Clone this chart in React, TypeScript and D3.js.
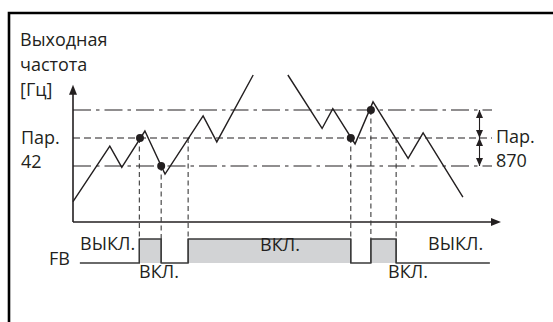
import React from "react";
import { scaleLinear, line } from "d3";

// frequency curve, two pieces (time units, Hz)
const curveA = [
  [0, 7.3], [8.6, 27.1], [11.4, 19.5], [16.8, 32.5], [21.5, 17.1],
  [30.4, 37.9], [33.6, 28.6], [42.1, 52.5],
];
const curveB = [
  [50.2, 52.5], [58.2, 33.4], [60.7, 40.5], [65.9, 27.9], [70.1, 42.9],
  [78.3, 22.7], [81.8, 31.8], [91.1, 8.9],
];
// Par. 42 level and Par. 870 band
const par42 = 30;
const par870 = 10;
// detection points on the curve [time, Hz]
const dots = [[15.65, 30], [20.6, 20], [64.9, 30], [69.6, 40]];
// FB signal edges: [time, level at start of vertical dashed guide]
const fbEdges = [[15.5, 30], [20.6, 20], [26.9, 30], [64.9, 30], [69.6, 40], [75.5, 30]];
const fbStart = 1.6;
const fbEnd = 97.4;

const ink = "#231f20";
const font = "'Open Sans', sans-serif";

export default function App() {
  const x = scaleLinear().domain([0, 100]).range([73, 501]);
  const y = scaleLinear().domain([0, 52.5]).range([222, 75]);
  const fb = scaleLinear().domain([0, 1]).range([263, 239]);
  const path = line<number[]>().x((d) => x(d[0])).y((d) => y(d[1]));

  // FB levels: off/on alternating from edges
  const times = [fbStart, ...fbEdges.map((e) => e[0]), fbEnd];
  const levels = times.slice(0, -1).map((_, i) => (i % 2 === 1 ? 1 : 0));
  const stepPts: [number, number][] = [];
  levels.forEach((lv, i) => {
    stepPts.push([x(times[i]), fb(lv)]);
    stepPts.push([x(times[i + 1]), fb(lv)]);
  });
  const stepPath = "M" + stepPts.map((p) => p.join(",")).join("L");

  const xEnd = 492;
  const dimX = 479.5;
  const arrowUp = (tx: number, ty: number) => `M${tx},${ty}L${tx - 3.5},${ty + 8}L${tx + 3.5},${ty + 8}Z`;
  const arrowDown = (tx: number, ty: number) => `M${tx},${ty}L${tx - 3.5},${ty - 8}L${tx + 3.5},${ty - 8}Z`;

  const txt = { fontFamily: font, fontSize: 18, fill: ink } as const;

  return (
    <svg width={553} height={322} style={{ position: "absolute", left: 0, top: 0 }}>
      <rect width={553} height={322} fill="#fff" />
      <path d="M9,330V13H560" fill="none" stroke="#000" strokeWidth={2.6} />

      {/* labels */}
      <text x={20} y={46} {...txt}>Выходная</text>
      <text x={20} y={71} {...txt}>частота</text>
      <text x={20} y={96} {...txt}>[Гц]</text>
      <text x={21} y={144} {...txt}>Пар.</text>
      <text x={21} y={168} {...txt}>42</text>
      <text x={496} y={143} {...txt}>Пар.</text>
      <text x={496} y={167} {...txt}>870</text>

      {/* level lines */}
      <line x1={x(0)} x2={xEnd} y1={y(par42 + par870)} y2={y(par42 + par870)} stroke={ink} strokeWidth={1.2} strokeDasharray="18 5 3.5 5" />
      <line x1={x(0)} x2={xEnd} y1={y(par42)} y2={y(par42)} stroke={ink} strokeWidth={1.2} strokeDasharray="7 4" />
      <line x1={x(0)} x2={xEnd} y1={y(par42 - par870)} y2={y(par42 - par870)} stroke={ink} strokeWidth={1.2} strokeDasharray="18 5 3.5 5" />

      {/* dimension arrows */}
      <line x1={dimX} x2={dimX} y1={y(par42 + par870)} y2={y(par42 - par870)} stroke={ink} strokeWidth={1.1} />
      <path d={arrowUp(dimX, y(par42 + par870))} fill={ink} />
      <path d={arrowDown(dimX, y(par42))} fill={ink} />
      <path d={arrowUp(dimX, y(par42))} fill={ink} />
      <path d={arrowDown(dimX, y(par42 - par870))} fill={ink} />

      {/* axes */}
      <line x1={x(0)} x2={x(0)} y1={y(0)} y2={y(49) + 8} stroke={ink} strokeWidth={1.6} />
      <path d={`M${x(0)},${y(49)}L${x(0) - 4},${y(49) + 10}L${x(0) + 4},${y(49) + 10}Z`} fill={ink} />
      <line x1={x(0)} x2={x(100) - 8} y1={y(0)} y2={y(0)} stroke={ink} strokeWidth={1.6} />
      <path d={`M${x(100)},${y(0)}L${x(100) - 10},${y(0) - 4}L${x(100) - 10},${y(0) + 4}Z`} fill={ink} />

      {/* vertical guides */}
      {fbEdges.map((e, i) => (
        <line key={i} x1={x(e[0])} x2={x(e[0])} y1={y(e[1])} y2={fb(1)} stroke="#3a3a3a" strokeWidth={1.1} strokeDasharray="5 3.5" />
      ))}

      {/* frequency curve */}
      <path d={path(curveA) ?? ""} fill="none" stroke={ink} strokeWidth={1.4} />
      <path d={path(curveB) ?? ""} fill="none" stroke={ink} strokeWidth={1.4} />
      {dots.map((d, i) => (
        <circle key={i} cx={x(d[0])} cy={y(d[1])} r={4} fill={ink} />
      ))}

      {/* FB signal */}
      {levels.map((lv, i) =>
        lv === 1 ? (
          <rect key={i} x={x(times[i])} y={fb(1)} width={x(times[i + 1]) - x(times[i])} height={fb(0) - fb(1)} fill="#d2d3d5" />
        ) : null
      )}
      <path d={stepPath + `V${fb(0)}`} fill="none" stroke="#3a3a3a" strokeWidth={1.3} />
      {fbEdges.map((e, i) => (
        <line key={"v" + i} x1={x(e[0])} x2={x(e[0])} y1={fb(0)} y2={fb(1)} stroke="#3a3a3a" strokeWidth={1.3} />
      ))}
      <text x={49} y={265} {...txt}>FB</text>
      <text x={80} y={250} {...txt}>ВЫКЛ.</text>
      <text x={139} y={278} {...txt}>ВКЛ.</text>
      <text x={260} y={251} {...txt}>ВКЛ.</text>
      <text x={428} y={250} {...txt}>ВЫКЛ.</text>
      <text x={388} y={278} {...txt}>ВКЛ.</text>
    </svg>
  );
}
